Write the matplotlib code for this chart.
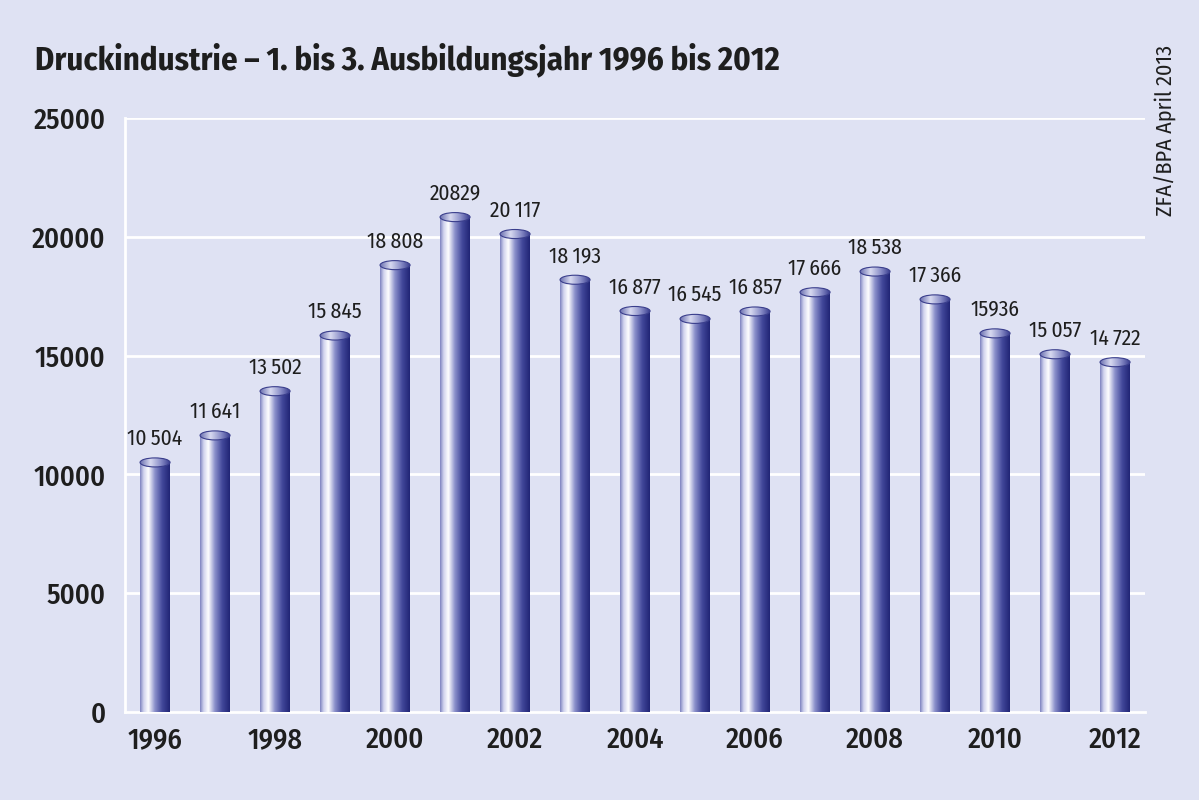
import numpy as np
import matplotlib
matplotlib.use("Agg")
import matplotlib.pyplot as plt
from matplotlib.colors import LinearSegmentedColormap
from matplotlib.patches import Ellipse

# data
years = list(range(1996, 2013))
values = [10504, 11641, 13502, 15845, 18808, 20829, 20117, 18193, 16877,
          16545, 16857, 17666, 18538, 17366, 15936, 15057, 14722]
value_labels = ["10\u2009504", "11\u2009641", "13\u2009502", "15\u2009845", "18\u2009808",
                "20829", "20\u2009117", "18\u2009193", "16\u2009877", "16\u2009545",
                "16\u2009857", "17\u2009666", "18\u2009538", "17\u2009366", "15936",
                "15\u2009057", "14\u2009722"]
yticks = [0, 5000, 10000, 15000, 20000, 25000]
xticks = [1996, 1998, 2000, 2002, 2004, 2006, 2008, 2010, 2012]

title = "Druckindustrie \u2013 1. bis 3. Ausbildungsjahr 1996 bis 2012"
source = "ZFA/BPA April 2013"

BG = "#dfe2f3"
INK = "#1e1e1e"
plt.rcParams["font.family"] = ["Fira Sans Condensed", "PT Sans Narrow", "DejaVu Sans"]

# cylinder shading: darker rim, white highlight, dark blue right side
body_cmap = LinearSegmentedColormap.from_list(
    "cyl", [(0.0, "#7d83c0"), (0.12, "#d0d3ee"), (0.28, "#ffffff"),
            (0.5, "#8a8fca"), (0.75, "#41479a"), (1.0, "#212575")])
cap_cmap = LinearSegmentedColormap.from_list(
    "cap", [(0.0, "#6a6fb0"), (0.35, "#d8daf0"), (0.7, "#8a8ec8"), (1.0, "#3a3e90")])

fig = plt.figure(figsize=(11.99, 8.0), dpi=100)
fig.patch.set_facecolor(BG)
ax = fig.add_axes([0.1043, 0.11, 0.8507, 0.7425])
ax.set_facecolor(BG)

for y in yticks[1:]:
    ax.axhline(y, color="white", lw=2, zorder=1)

grad = np.linspace(0, 1, 200).reshape(1, -1)
w = 0.5
cap_h = 380
for x, v, lab in zip(years, values, value_labels):
    ax.imshow(grad, cmap=body_cmap, extent=(x - w / 2, x + w / 2, 0, v),
              aspect="auto", zorder=3, interpolation="bilinear")
    cap = Ellipse((x, v), w, cap_h, facecolor="none", edgecolor="#3a3e8c", lw=0.8, zorder=5)
    ax.add_patch(cap)
    im = ax.imshow(grad, cmap=cap_cmap, extent=(x - w / 2, x + w / 2, v - cap_h / 2, v + cap_h / 2),
                   aspect="auto", zorder=4, interpolation="bilinear")
    im.set_clip_path(cap)
    ax.text(x, v + 550, lab, ha="center", va="bottom", fontsize=15.5, color=INK, zorder=6)

ax.set_xlim(years[0] - 0.5, years[-1] + 0.5)
ax.set_ylim(0, 25000)

ax.set_yticks(yticks)
ax.set_xticks(xticks)
ax.set_yticklabels([str(t) for t in yticks], fontsize=20.5, color=INK, fontweight="medium")
ax.set_xticklabels([str(t) for t in xticks], fontsize=20.5, color=INK, fontweight="medium")
ax.tick_params(length=0)
ax.tick_params(axis="y", pad=14)
ax.tick_params(axis="x", pad=10)

for s in ["top", "right"]:
    ax.spines[s].set_visible(False)
for s in ["left", "bottom"]:
    ax.spines[s].set_color("white")
    ax.spines[s].set_linewidth(2)
    ax.spines[s].set_zorder(2)

fig.text(0.029, 0.925, title, fontsize=23.5, fontweight="bold", color=INK,
         ha="left", va="center")
fig.text(0.972, 0.8375, source, fontsize=16, rotation=90, color=INK,
         ha="center", va="center")

fig.savefig("out.png", dpi=100, facecolor=BG)
